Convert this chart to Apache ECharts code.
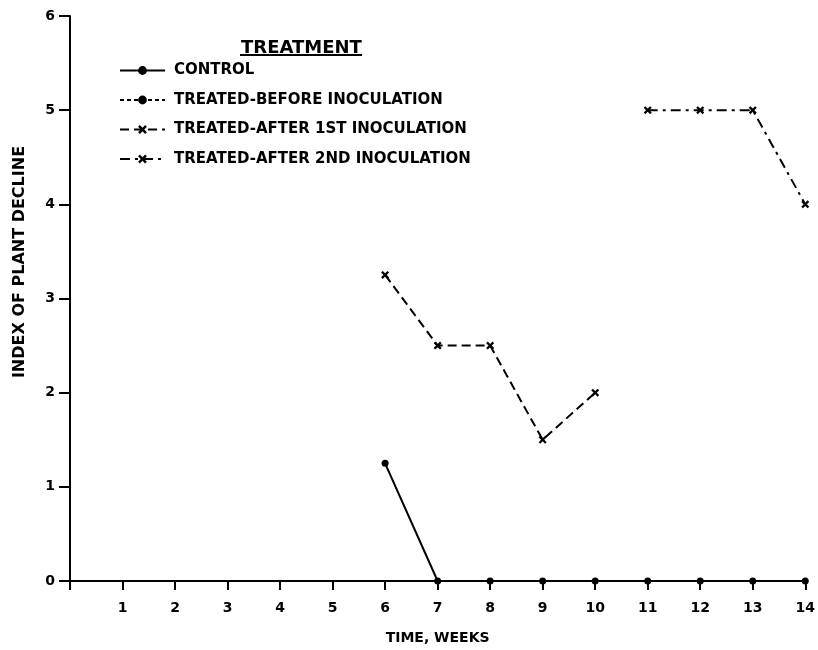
<!DOCTYPE html>
<html>
<head>
<meta charset="utf-8">
<script src="https://cdn.jsdelivr.net/npm/echarts@6/dist/echarts.min.js"></script>
<style>html,body{margin:0;padding:0;background:#fff}#c{width:818px;height:650px}</style>
</head>
<body>
<div id="c"></div>
<script>
// ---- data ----
const controlWeeks = [6, 7, 8, 9, 10, 11, 12, 13, 14];
const controlValues = [1.25, 0, 0, 0, 0, 0, 0, 0, 0];
const beforeWeeks = [];
const beforeValues = [];
const after1stWeeks = [6, 7, 8, 9, 10];
const after1stValues = [3.25, 2.5, 2.5, 1.5, 2.0];
const after2ndWeeks = [11, 12, 13, 14];
const after2ndValues = [5, 5, 5, 4];
const seriesNames = ['CONTROL', 'TREATED-BEFORE INOCULATION', 'TREATED-AFTER 1ST INOCULATION', 'TREATED-AFTER 2ND INOCULATION'];
const legendTitle = 'TREATMENT';
const xName = 'TIME, WEEKS';
const yName = 'INDEX OF PLANT DECLINE';

const pair = (xs, ys) => xs.map((x, i) => [x, ys[i]]);
const FONT = '"DejaVu Sans", sans-serif';
const XSYM = 'path://M0,2L2,0L5,3L8,0L10,2L7,5L10,8L8,10L5,7L2,10L0,8L3,5Z';

const chart = echarts.init(document.getElementById('c'), null, {renderer: 'canvas'});
chart.setOption({
  backgroundColor: '#fff',
  animation: false,
  textStyle: {fontFamily: FONT, color: '#000'},
  grid: {left: 70, right: 8, top: 16, bottom: 64, containLabel: false},
  title: {
    text: legendTitle, left: 236, top: 34,
    textStyle: {fontFamily: FONT, fontSize: 18, fontWeight: 'bold', color: '#000'}
  },
  legend: {
    orient: 'vertical', left: 114, top: 58,
    itemWidth: 45, itemHeight: 11, itemGap: 14.5,
    data: seriesNames,
    textStyle: {fontFamily: FONT, fontSize: 15, lineHeight: 15, fontWeight: 'bold', color: '#000', padding: [0, 0, 0, 4]}
  },
  xAxis: {
    type: 'value', min: 0, max: 14, interval: 1,
    name: xName, nameLocation: 'middle', nameGap: 50,
    nameTextStyle: {fontFamily: FONT, fontSize: 14, fontWeight: 'bold', color: '#000'},
    axisLine: {show: true, lineStyle: {color: '#000', width: 2}},
    axisTick: {show: true, length: 9, lineStyle: {color: '#000', width: 2}},
    axisLabel: {margin: 20, fontFamily: FONT, fontSize: 14, fontWeight: 'bold', color: '#000',
      formatter: v => v === 0 ? '' : String(v)},
    splitLine: {show: false}
  },
  yAxis: {
    type: 'value', min: 0, max: 6, interval: 1,
    axisLine: {show: true, onZero: false, lineStyle: {color: '#000', width: 2}},
    axisTick: {show: true, length: 11, lineStyle: {color: '#000', width: 2}},
    axisLabel: {margin: 15, fontFamily: FONT, fontSize: 14, fontWeight: 'bold', color: '#000'},
    splitLine: {show: false}
  },
  graphic: [
    {type: 'line', shape: {x1: 240, y1: 55, x2: 362, y2: 55}, style: {stroke: '#000', lineWidth: 2}},
    {type: 'text', x: 20, y: 262, rotation: Math.PI / 2,
      style: {text: yName, font: 'bold 16px "DejaVu Sans", sans-serif', fill: '#000', align: 'center', verticalAlign: 'middle'}}
  ],
  series: [
    {name: seriesNames[0], type: 'line', data: pair(controlWeeks, controlValues),
      symbol: 'circle', symbolSize: 7, z: 5,
      lineStyle: {color: '#000', width: 2, type: 'solid'}, itemStyle: {color: '#000'}},
    {name: seriesNames[1], type: 'line', data: pair(beforeWeeks, beforeValues),
      symbol: 'circle', symbolSize: 6,
      lineStyle: {color: '#000', width: 2, type: [4, 3]}, itemStyle: {color: '#000'}},
    {name: seriesNames[2], type: 'line', data: pair(after1stWeeks, after1stValues),
      symbol: XSYM, symbolSize: 8,
      lineStyle: {color: '#000', width: 2, type: [9, 5]}, itemStyle: {color: '#000'}},
    {name: seriesNames[3], type: 'line', data: pair(after2ndWeeks, after2ndValues),
      symbol: XSYM, symbolSize: 8,
      lineStyle: {color: '#000', width: 2, type: [10, 5, 3, 5]}, itemStyle: {color: '#000'}}
  ]
});
</script>
</body>
</html>
